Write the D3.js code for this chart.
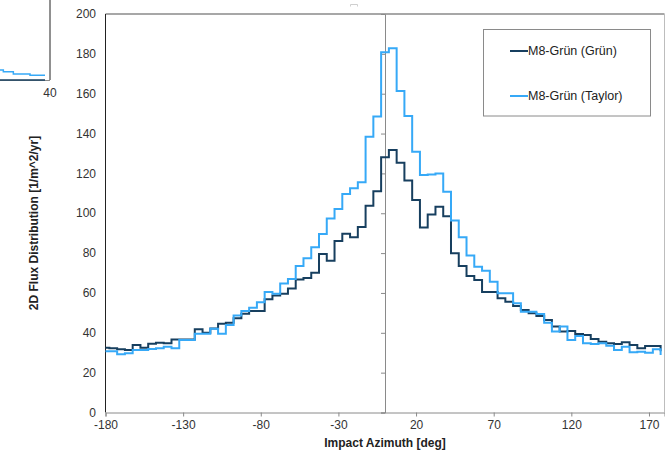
<!DOCTYPE html>
<html>
<head>
<meta charset="utf-8">
<script src="https://cdn.jsdelivr.net/npm/d3@7"></script>
<style>
  body { margin: 0; background: #fff; }
  svg { display: block; font-family: "Liberation Sans", Arial, sans-serif; }
</style>
</head>
<body>
<div id="chart"></div>
<script>
// bin centres, -180..180 every 5 deg
var azimuth = d3.range(-180, 181, 5);

var fluxGruen = [
  32.5, 32.2, 31.7, 31.4, 33.9, 32.5, 34.5, 35.0, 34.7, 36.7,
  36.7, 36.7, 41.8, 40.0, 42.2, 44.5, 45.1, 47.3, 49.5, 50.9,
  50.9, 56.8, 58.7, 59.6, 62.2, 66.8, 67.5, 70.2, 79.5, 76.2,
  86.1, 89.7, 87.9, 93.1, 103.8, 111.0, 128.1, 131.7, 125.3, 116.4,
  106.6, 92.8, 99.4, 103.3, 98.5, 79.9, 73.5, 68.5, 66.5, 60.5,
  60.5, 57.3, 55.6, 53.5, 51.4, 49.8, 48.4, 46.4, 43.1, 40.6,
  40.9, 39.4, 38.9, 36.9, 35.5, 34.7, 34.4, 35.2, 33.9, 32.2,
  33.4, 33.4, 30.8
];

var fluxTaylor = [
  30.8, 30.8, 29.2, 29.7, 31.4, 31.4, 31.9, 32.2, 33.0, 32.2,
  36.4, 36.4, 39.5, 39.5, 42.0, 39.5, 43.9, 48.7, 50.9, 52.6,
  55.3, 60.5, 59.6, 64.8, 67.0, 73.5, 77.4, 82.9, 89.6, 97.4,
  102.1, 109.7, 112.5, 115.5, 138.4, 148.5, 180.8, 182.8, 161.4, 148.8,
  130.9, 119.2, 119.5, 120.0, 110.8, 96.3, 88.0, 78.8, 73.2, 71.2,
  65.6, 59.8, 59.8, 54.8, 50.6, 50.6, 49.4, 45.1, 40.6, 43.1,
  36.4, 38.4, 34.7, 34.4, 34.7, 33.5, 31.4, 33.0, 30.2, 30.5,
  30.0, 31.7, 28.9
];

var xTicks = [-180, -130, -80, -30, 20, 70, 120, 170];
var yTicks = d3.range(0, 201, 20);
var seriesNames = ["M8-Grün (Grün)", "M8-Grün (Taylor)"];

// fragment of the neighbouring chart, cut off at the top left
var insetX = [34, 34.4, 35.6, 37.6, 39.4];
var insetTaylor = [1.25, 1.04, 0.75, 0.59, 0.59];
var insetGruen = [0, 0, 0, 0, 0];

var width = 665, height = 456;
var colours = ["#173f5f", "#36a9f7"];

var svg = d3.select("#chart")
  .append("svg")
  .attr("width", width)
  .attr("height", height);

var x = d3.scaleLinear().domain([-180, 180]).range([105.5, 664.5]);
var y = d3.scaleLinear().domain([0, 200]).range([412.5, 14]);

// plot frame
svg.append("line")
  .attr("x1", x(-180)).attr("x2", x(180))
  .attr("y1", y(200)).attr("y2", y(200))
  .style("stroke", "#8a8a8a").style("stroke-width", 1.5);
svg.append("line")
  .attr("x1", x(180)).attr("x2", x(180))
  .attr("y1", y(200)).attr("y2", y(0))
  .style("stroke", "#bdbdbd");
svg.append("line")
  .attr("x1", x(-180)).attr("x2", x(-180))
  .attr("y1", y(200)).attr("y2", y(0))
  .style("stroke", "#222");

// x axis, plain hyphen for negatives
var xAxis = svg.append("g")
  .attr("transform", "translate(0," + y(0) + ")")
  .call(d3.axisBottom(x).tickValues(xTicks).tickSize(4).tickPadding(4)
    .tickFormat(function (d) { return String(d); }));
xAxis.select(".domain").attr("stroke", "#8a8a8a");
xAxis.selectAll(".tick line").attr("stroke", "#8a8a8a");
xAxis.selectAll("text").attr("font-size", 12).attr("fill", "#333").attr("font-family", null);

// y axis crosses at 0 deg, labels sit at the left
var yAxis = svg.append("g")
  .attr("transform", "translate(" + x(0) + ",0)")
  .call(d3.axisLeft(y).tickValues(yTicks).tickSize(4).tickFormat(""));
yAxis.select(".domain").attr("stroke", "#8a8a8a");
yAxis.selectAll(".tick line").attr("stroke", "#8a8a8a");

svg.append("g")
  .selectAll("text")
  .data(yTicks)
  .enter()
  .append("text")
  .attr("x", 96)
  .attr("y", function (d) { return y(d); })
  .attr("dy", "0.35em")
  .attr("text-anchor", "end")
  .attr("font-size", 12)
  .attr("fill", "#333")
  .text(function (d) { return d; });

// titles
svg.append("text")
  .attr("x", (x(-180) + x(180)) / 2)
  .attr("y", 447)
  .attr("text-anchor", "middle")
  .attr("font-size", 12)
  .attr("font-weight", "bold")
  .attr("fill", "#222")
  .text("Impact Azimuth [deg]");

svg.append("text")
  .attr("transform", "translate(38," + 223 + ") rotate(-90)")
  .attr("text-anchor", "middle")
  .attr("font-size", 12)
  .attr("font-weight", "bold")
  .attr("fill", "#222")
  .text("2D Flux Distribution [1/m^2/yr]");

// histogram as steps: bin edges at centre +- 2.5, last value hangs on the final edge
function stepPoints(values) {
  var pts = [];
  for (var i = 0; i < azimuth.length - 1; i++) {
    pts.push([i === 0 ? azimuth[0] : azimuth[i] - 2.5, values[i]]);
  }
  pts.push([azimuth[azimuth.length - 1] - 2.5, values[values.length - 1]]);
  return pts;
}

var line = d3.line()
  .x(function (d) { return x(d[0]); })
  .y(function (d) { return y(d[1]); })
  .curve(d3.curveStepAfter);

[fluxGruen, fluxTaylor].forEach(function (values, i) {
  svg.append("path")
    .attr("d", line(stepPoints(values)))
    .style("fill", "none")
    .style("stroke", colours[i])
    .style("stroke-width", 2);
});

// legend
var legend = svg.append("g");
legend.append("rect")
  .attr("x", 483.5).attr("y", 29.5)
  .attr("width", 167).attr("height", 86.5)
  .style("fill", "#fff")
  .style("stroke", "#8a8a8a");

var entries = legend.selectAll(".entry")
  .data(seriesNames)
  .enter()
  .append("g")
  .attr("transform", function (d, i) { return "translate(510," + (51 + i * 45) + ")"; });

entries.append("line")
  .attr("x1", 0).attr("x2", 18)
  .style("stroke", function (d, i) { return colours[i]; })
  .style("stroke-width", 2);

entries.append("text")
  .attr("x", 18)
  .attr("dy", "0.35em")
  .attr("font-size", 12.5)
  .attr("fill", "#222")
  .text(function (d) { return d; });

// small grey mark above the plot
svg.append("path")
  .attr("d", "M350.5,6.5V4.5H357.5V6.5")
  .style("fill", "none")
  .style("stroke", "#cfcfcf");

// neighbouring chart fragment
var ix = d3.scaleLinear().domain([34, 40]).range([0, 50]);
var iy = d3.scaleLinear().domain([0, 1]).range([80, 72]);

svg.append("line")
  .attr("x1", ix(40)).attr("x2", ix(40))
  .attr("y1", 0).attr("y2", iy(0))
  .style("stroke", "#222");
svg.append("line")
  .attr("x1", 0).attr("x2", ix(40))
  .attr("y1", iy(0) + 0.5).attr("y2", iy(0) + 0.5)
  .style("stroke", "#8a8a8a");

var insetLine = d3.line()
  .x(function (d) { return ix(d[0]); })
  .y(function (d) { return iy(d[1]); })
  .curve(d3.curveStepAfter);

[insetGruen, insetTaylor].forEach(function (values, i) {
  svg.append("path")
    .attr("d", insetLine(insetX.map(function (v, j) { return [v, values[j]]; })))
    .style("fill", "none")
    .style("stroke", colours[i])
    .style("stroke-width", 1.5);
});

svg.append("text")
  .attr("x", ix(40))
  .attr("y", 97)
  .attr("text-anchor", "middle")
  .attr("font-size", 12)
  .attr("fill", "#333")
  .text("40");
</script>
</body>
</html>
